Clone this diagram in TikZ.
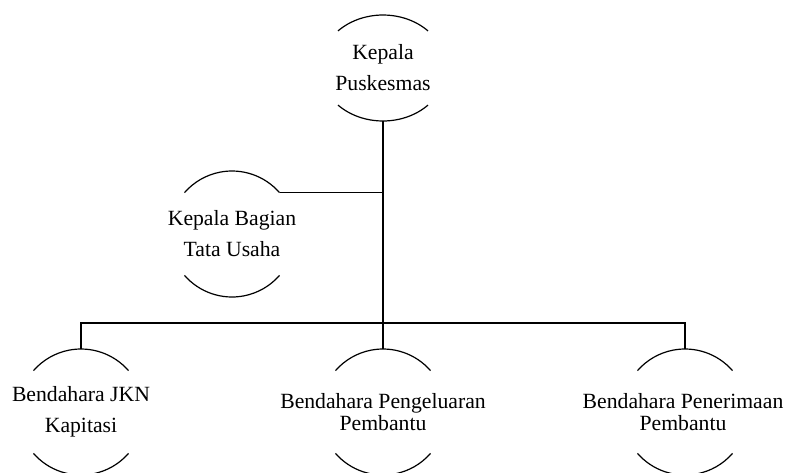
\documentclass[tikz,border=0pt]{standalone}
\usepackage{fontspec}
\setmainfont{Liberation Serif}
\usetikzlibrary{shapes.geometric}

\begin{document}
\begin{tikzpicture}[x = 1pt, y = 1pt, line width = 1.2pt,
	ring/.style = {circle, minimum size = 126pt, inner sep = 0pt, outer sep = 0pt},
	oval/.style = {ellipse, minimum width = 126pt, minimum height = 106pt, inner sep = 0pt, outer sep = 0pt},
	wide/.style = {align = center, inner sep = 0pt, font = \fontsize{21.7}{31}\selectfont},
	tight/.style = {align = center, inner sep = 0pt, font = \fontsize{21.7}{22.5}\selectfont}]

	\useasboundingbox (0, 0) rectangle (789, -472);

	% The posts
	
	\node [oval, label = {[wide]center:Kepala\\Puskesmas}] (kapus) at (383, -68) {};
	\node [ring, label = {[wide]center:Kepala Bagian\\Tata Usaha}] (kabag) at (232, -234) {};
	\node [ring, label = {[wide]center:Bendahara JKN\\Kapitasi}] (bjkn) at (81, -412) {};
	\node [ring, label = {[tight]center:Bendahara Pengeluaran\\Pembantu}] (bpeng) at (383, -412) {};
	\node [ring, label = {[tight, xshift = -2pt]center:Bendahara Penerimaan\\Pembantu}] (bpen) at (685, -412) {};

	% Open rings round the posts
	
	\draw (kapus.center) ++ (44.4 : 63 and 53) arc [start angle = 44.4, end angle = 135.6, x radius = 63, y radius = 53];
	\draw (kapus.center) ++ (224.4 : 63 and 53) arc [start angle = 224.4, end angle = 315.6, x radius = 63, y radius = 53];
	
	\foreach \n in {kabag, bjkn, bpeng, bpen}
	{
		\draw (\n.41) arc [start angle = 41, end angle = 139, radius = 63];
		\draw (\n.221) arc [start angle = 221, end angle = 319, radius = 63];
	}

	% Lines of command
	
	\coordinate (bar) at (383, -323);
	
	\draw (kapus.south) -- (bpeng.north);
	\draw (kabag.41) -- (kabag.41 -| kapus.south);
	\draw (bjkn.north) |- (bar) -| (bpen.north);

\end{tikzpicture}
\end{document}
